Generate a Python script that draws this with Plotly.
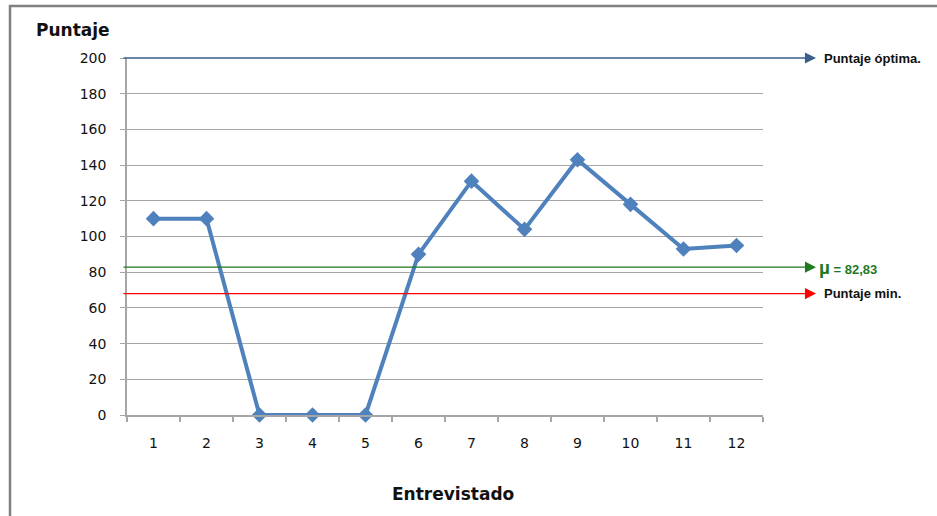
import plotly.graph_objects as go

entrevistados = [str(i) for i in range(1, 13)]
puntajes = [110, 110, 0, 0, 0, 90, 131, 104, 143, 118, 93, 95]
puntaje_optimo = 200
puntaje_minimo = 68
media = sum(puntajes) / len(puntajes)
y_ticks = list(range(0, 201, 20))

W, H = 937, 516
L, R, T, B = 127, 763, 58, 415
pw, ph = R - L, B - T


def px(x):
    return (x - L) / pw


def py(y):
    return (B - y) / ph


FONT = "Liberation Sans Narrow, Arial Narrow, Liberation Sans, Arial, sans-serif"
TFONT = "DejaVu Sans, Verdana, sans-serif"

fig = go.Figure()
fig.add_trace(go.Scatter(
    x=entrevistados, y=puntajes, mode="lines+markers",
    line=dict(color="#4F81BD", width=4),
    marker=dict(symbol="diamond", size=12, color="#4F81BD"),
    hoverinfo="skip", showlegend=False, cliponaxis=False,
))

ref_lines = [
    (puntaje_optimo, "#3B5E8C"),
    (media, "#1F7A1F"),
    (puntaje_minimo, "#FF0000"),
]
annotations = []
shapes = []
ARROW_END, LINE_START = 816, 122
for val, col in ref_lines:
    annotations.append(dict(
        xref="paper", yref="y", axref="pixel", ayref="pixel",
        x=px(ARROW_END), y=val, ax=-(ARROW_END - LINE_START), ay=0,
        text="", showarrow=True, arrowhead=2, arrowsize=1.7,
        arrowwidth=1.3, arrowcolor=col, standoff=0,
    ))

annotations += [
    dict(xref="paper", yref="y", x=px(822), y=puntaje_optimo, xanchor="left",
         yanchor="middle", showarrow=False,
         text="<b>Puntaje óptima.</b>", font=dict(family=FONT, size=13, color="#111")),
    dict(xref="paper", yref="y", x=px(817), y=media, xanchor="left",
         yanchor="middle", showarrow=False,
         text="<b><span style='font-size:19px'>µ</span> = %s</b>" % f"{media:.2f}".replace(".", ","),
         font=dict(family=FONT, size=13, color="#1F7A1F")),
    dict(xref="paper", yref="y", x=px(822), y=puntaje_minimo, xanchor="left",
         yanchor="middle", showarrow=False,
         text="<b>Puntaje min.</b>", font=dict(family=FONT, size=13, color="#111")),
    dict(xref="paper", yref="paper", x=px(34), y=py(30), xanchor="left",
         yanchor="middle", showarrow=False,
         text="<b>Puntaje</b>", font=dict(family=TFONT, size=17, color="#111")),
    dict(xref="paper", yref="paper", x=px(453), y=py(494), xanchor="center",
         yanchor="middle", showarrow=False,
         text="<b>Entrevistado</b>", font=dict(family=TFONT, size=17, color="#111")),
]

shapes.append(dict(type="path", xref="paper", yref="paper",
                   path=f"M {px(10)},{py(520)} L {px(10)},{py(6)} L {px(940)},{py(6)}",
                   line=dict(color="#7F7F7F", width=2.5)))

fig.update_layout(
    width=W, height=H,
    margin=dict(l=L, r=W - R, t=T, b=H - B, autoexpand=False),
    paper_bgcolor="white", plot_bgcolor="white",
    font=dict(family=TFONT, size=14, color="#111"),
    annotations=annotations, shapes=shapes,
    xaxis=dict(type="category", range=[-0.5, 11.5], showgrid=False,
               showline=True, linecolor="#A6A6A6", linewidth=1.5,
               ticks="outside", ticklen=5, tickcolor="#A6A6A6", tickwidth=1.5,
               tickson="boundaries", ticklabelstandoff=14,
               tickfont=dict(family=TFONT, size=14, color="#111")),
    yaxis=dict(range=[0, 200], tickvals=y_ticks, showgrid=True,
               gridcolor="#A6A6A6", gridwidth=1.2, zeroline=False,
               showline=True, linecolor="#A6A6A6", linewidth=1.5,
               ticks="outside", ticklen=5, tickcolor="#A6A6A6", tickwidth=1.2,
               ticklabelstandoff=11, tickfont=dict(family=TFONT, size=14, color="#111")),
)

fig.write_html("out.html")
